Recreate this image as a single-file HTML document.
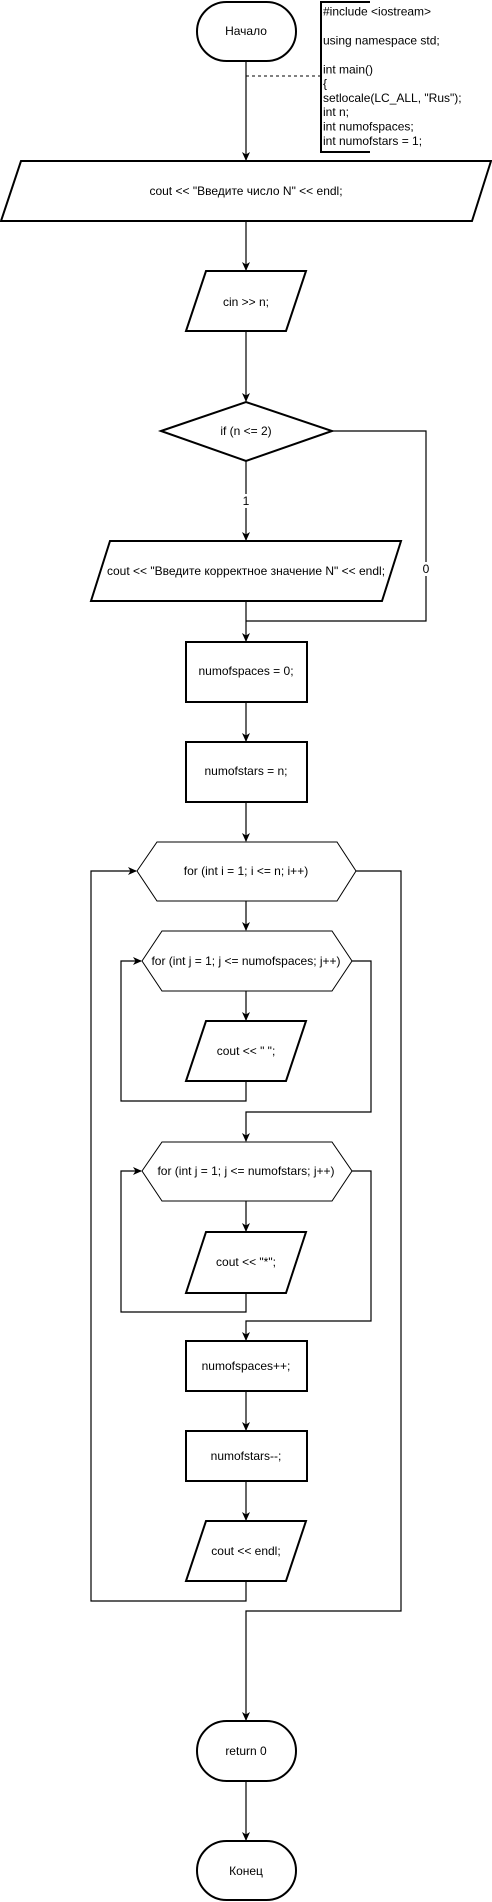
<!DOCTYPE html>
<html><head><meta charset="utf-8"><style>
html,body{margin:0;padding:0;background:#fff}
svg{display:block}
text{font-family:"Liberation Sans",Arial,sans-serif;font-size:12px;fill:#000}
</style></head><body>
<svg width="492" height="1902" viewBox="0 0 492 1902" xmlns="http://www.w3.org/2000/svg">
<defs>
<marker id="a" markerWidth="10" markerHeight="10" refX="8" refY="5" orient="auto" markerUnits="userSpaceOnUse">
<path d="M0,1 L9,5 L0,9 L2.5,5 Z" fill="#000"/>
</marker>
</defs>
<g fill="#fff" stroke="#000" stroke-width="2">
<rect x="197" y="2" width="99" height="59" rx="29.5" ry="29.5"/>
<polygon points="21,161 491,161 472,221 1,221"/>
<polygon points="206,271 306,271 286,331 186,331"/>
<polygon points="161,431 246,402 332,431 246,461"/>
<polygon points="110,541 401,541 382,601 91,601"/>
<rect x="186" y="642" width="121" height="60"/>
<rect x="186" y="742" width="121" height="60"/>
<polygon points="137,871 157,842 337,842 356,871 337,901 157,901" stroke-width="1"/>
<polygon points="142,961 162,931 332,931 352,961 332,991 162,991" stroke-width="1"/>
<polygon points="206,1021 306,1021 286,1081 186,1081"/>
<polygon points="142,1171 162,1142 332,1142 352,1171 332,1201 162,1201" stroke-width="1"/>
<polygon points="206,1232 306,1232 286,1293 186,1293"/>
<rect x="186" y="1341" width="121" height="50"/>
<rect x="186" y="1431" width="121" height="50"/>
<polygon points="206,1521 306,1521 286,1581 186,1581"/>
<rect x="197" y="1721" width="99" height="60" rx="29.5" ry="30"/>
<rect x="197" y="1841" width="99" height="59" rx="29.5" ry="29.5"/>
</g>
<path d="M370,2 L321,2 L321,152 L370,152" fill="none" stroke="#000" stroke-width="2"/>
<line x1="246" y1="76" x2="321" y2="76" stroke="#000" stroke-dasharray="3,3"/>
<path d="M332,431 H426 V621 H246" fill="none" stroke="#000" stroke-width="1.2"/>
<g fill="none" stroke="#000" stroke-width="1.2" marker-end="url(#a)">
<path d="M246,61 V160"/>
<path d="M246,221 V270"/>
<path d="M246,331 V401"/>
<path d="M246,461 V540"/>
<path d="M246,601 V641"/>
<path d="M246,702 V741"/>
<path d="M246,802 V841"/>
<path d="M246,901 V930"/>
<path d="M246,991 V1020"/>
<path d="M246,1081 V1101 H121 V961 H141"/>
<path d="M352,961 H371 V1112 H246 V1141"/>
<path d="M246,1201 V1231"/>
<path d="M246,1293 V1312 H121 V1171 H141"/>
<path d="M352,1171 H371 V1321 H246 V1340"/>
<path d="M246,1391 V1430"/>
<path d="M246,1481 V1520"/>
<path d="M246,1581 V1601 H91 V871 H136"/>
<path d="M356,871 H401 V1611 H246 V1720"/>
<path d="M246,1781 V1840"/>
</g>
<rect x="240" y="494" width="12" height="14" fill="#fff"/>
<text x="246" y="505" text-anchor="middle" font-size="11">1</text>
<rect x="420" y="562" width="12" height="14" fill="#fff"/>
<text x="426" y="573" text-anchor="middle" font-size="11">0</text>
<g text-anchor="middle">
<text x="246" y="35">Начало</text>
<text x="246" y="195">cout &lt;&lt; "Введите число N" &lt;&lt; endl;</text>
<text x="246" y="306">cin &gt;&gt; n;</text>
<text x="246" y="435">if (n &lt;= 2)</text>
<text x="246" y="575">cout &lt;&lt; "Введите корректное значение N" &lt;&lt; endl;</text>
<text x="246" y="675">numofspaces = 0;</text>
<text x="246" y="775">numofstars = n;</text>
<text x="246" y="875">for (int i = 1; i &lt;= n; i++)</text>
<text x="246" y="965">for (int j = 1; j &lt;= numofspaces; j++)</text>
<text x="246" y="1055">cout &lt;&lt; " ";</text>
<text x="246" y="1175">for (int j = 1; j &lt;= numofstars; j++)</text>
<text x="246" y="1266">cout &lt;&lt; "*";</text>
<text x="246" y="1370">numofspaces++;</text>
<text x="246" y="1460">numofstars--;</text>
<text x="246" y="1555">cout &lt;&lt; endl;</text>
<text x="246" y="1755">return 0</text>
<text x="246" y="1875">Конец</text>
</g>
<g>
<text x="323" y="15.5">#include &lt;iostream&gt;</text>
<text x="323" y="44.5">using namespace std;</text>
<text x="323" y="73.5">int main()</text>
<text x="323" y="87.5">{</text>
<text x="323" y="102">setlocale(LC_ALL, "Rus");</text>
<text x="323" y="116">int n;</text>
<text x="323" y="130.5">int numofspaces;</text>
<text x="323" y="145">int numofstars = 1;</text>
</g>
</svg>
</body></html>
